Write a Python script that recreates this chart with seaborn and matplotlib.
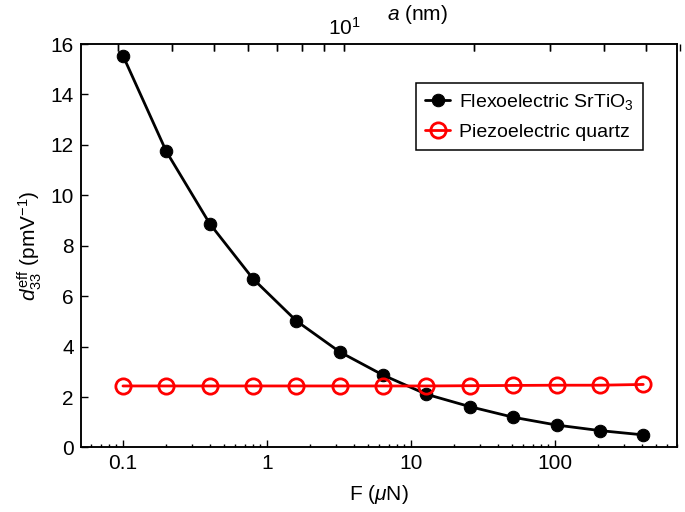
import numpy as np
import pandas as pd
import seaborn as sns
import matplotlib
matplotlib.use("Agg")
import matplotlib.pyplot as plt
from matplotlib.ticker import FixedLocator, FuncFormatter, NullFormatter, LogLocator

# datos
force = [0.1, 0.2, 0.4, 0.8, 1.6, 3.2, 6.4, 12.8, 25.6, 51.2, 102.4, 204.8, 409.6]
flexo = [15.54, 11.74, 8.88, 6.69, 5.02, 3.79, 2.87, 2.11, 1.62, 1.20, 0.89, 0.67, 0.50]
piezo = [2.44, 2.44, 2.44, 2.44, 2.44, 2.44, 2.44, 2.44, 2.45, 2.46, 2.47, 2.47, 2.50]
xticks = [0.1, 1, 10, 100]
top_major = [10]
top_minor = [3, 4, 5, 6, 7, 8, 9, 20, 30, 40, 50, 60]

df = pd.DataFrame({"F": force, "flexo": flexo, "piezo": piezo})

sns.set_style("ticks")
plt.rcParams.update({
    "font.family": ["Liberation Sans", "DejaVu Sans"],
    "mathtext.fontset": "custom",
    "mathtext.rm": "Liberation Sans",
    "mathtext.it": "Liberation Sans:italic",
    "mathtext.bf": "Liberation Sans:bold",
    "xtick.direction": "in",
    "ytick.direction": "in",
    "axes.linewidth": 1.1,
    "axes.edgecolor": "black",
    "text.color": "black",
    "axes.labelcolor": "black",
    "xtick.color": "black",
    "ytick.color": "black",
})

fig = plt.figure(figsize=(6.85, 5.12), dpi=100, facecolor="white")
ax = fig.add_axes([0.118, 0.126, 0.870, 0.788])

sns.lineplot(data=df, x="F", y="flexo", ax=ax, color="black", linewidth=2,
             marker="o", markersize=9, markerfacecolor="black",
             markeredgecolor="black", label="Flexoelectric SrTiO$_3$")
sns.lineplot(data=df, x="F", y="piezo", ax=ax, color="red", linewidth=2,
             marker="o", markersize=11, markerfacecolor="none",
             markeredgecolor="red", markeredgewidth=2,
             label="Piezoelectric quartz")

ax.set_xscale("log")
ax.set_xlim(0.051, 700)
ax.set_ylim(0, 16)
ax.xaxis.set_major_locator(FixedLocator(xticks))
ax.xaxis.set_major_formatter(FuncFormatter(lambda v, p: "%g" % v))
ax.xaxis.set_minor_locator(LogLocator(base=10, subs=np.arange(2, 10)))
ax.xaxis.set_minor_formatter(NullFormatter())
ax.set_yticks(range(0, 17, 2))
ax.tick_params(which="both", top=False, right=False)
ax.tick_params(which="major", length=5, width=1, labelsize=15, pad=5)
ax.tick_params(which="minor", length=2.5, width=1)

ax.set_xlabel(r"F ($\mu$N)", fontsize=15, labelpad=7)
ax.set_ylabel(r"$d_{33}^{\mathrm{eff}}$ (pmV$^{-1}$)", fontsize=15, labelpad=5)

# eje superior: radio de contacto a ~ F^(1/3)
k = 6.63
def a_to_F(a):
    return (np.asarray(a, dtype=float) / k) ** 3

top = ax.twiny()
top.patch.set_visible(False)
top.set_xscale("log")
top.set_xlim(ax.get_xlim())
top.xaxis.set_major_locator(FixedLocator(a_to_F(top_major)))
top.xaxis.set_major_formatter(FuncFormatter(lambda v, p: r"$10^{1}$"))
top.xaxis.set_minor_locator(FixedLocator(a_to_F(top_minor)))
top.xaxis.set_minor_formatter(NullFormatter())
top.tick_params(axis="x", which="both", direction="in", length=5, width=1,
                color="black", labelsize=15)
top.set_xlabel(r"$a$ (nm)", fontsize=15)
top.xaxis.set_label_coords(0.565, 1.06)

# marcas del eje superior dibujadas tambien sobre el eje principal
ax.vlines(a_to_F(top_major + top_minor), 0.983, 1.0,
          transform=ax.get_xaxis_transform(), colors="black", linewidth=1,
          clip_on=False, zorder=5)

leg = ax.legend(loc="upper right", bbox_to_anchor=(0.943, 0.903), fontsize=14,
                frameon=True, fancybox=False, edgecolor="black", framealpha=1,
                handlelength=1.3, handletextpad=0.45, borderpad=0.45,
                borderaxespad=0, labelspacing=0.6)
leg.get_frame().set_linewidth(1.1)

fig.savefig("out.png", dpi=100, facecolor="white")
